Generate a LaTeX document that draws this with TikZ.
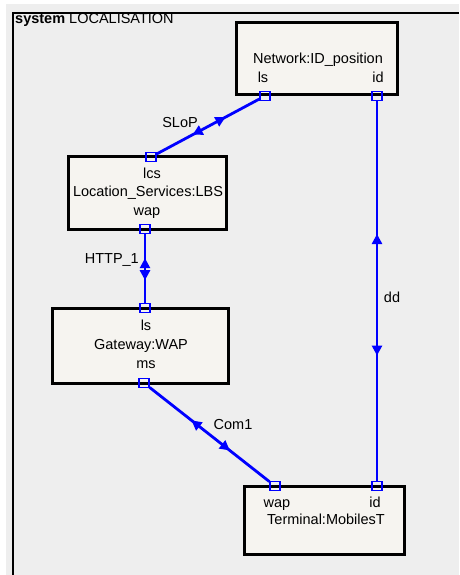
\documentclass[tikz,border=0pt]{standalone}
\usepackage{fontspec}
\setmainfont{Liberation Sans}
\usetikzlibrary{arrows.meta,decorations.markings}

\definecolor{panelgray}{HTML}{EEEEEE}
\definecolor{partfill}{HTML}{F6F4F0}

\tikzset{
  part/.style={draw=black, line width=3pt, fill=partfill, inner sep=0pt},
  port/.style={draw=blue, line width=1.2pt, minimum width=10pt, minimum height=9pt, inner sep=0pt},
  txt/.style={font=\fontsize{14.5}{17}\selectfont, inner sep=0pt, text height=10.5pt, text depth=3pt},
  conn/.style={blue, line width=2.8pt, postaction={decorate},
    decoration={markings,
      mark=at position 0.35 with {\arrowreversed{Triangle[length=10pt,width=10pt]}},
      mark=at position 0.67 with {\arrow{Triangle[length=10pt,width=10pt]}}}}
}

\begin{document}
\begin{tikzpicture}[x=1pt,y=-1pt]
\useasboundingbox (0,0) rectangle (459,575);
\fill[white] (0,0) rectangle (459,575);
\fill[panelgray] (6,4) rectangle (459,575);

% System frame
\draw[line width=2.2pt] (13,575) |- (459,13);
\node[txt, anchor=west] (title) at (15,20) {\textbf{system} LOCALISATION};

% Parts
\node[part, minimum width=161, minimum height=72] (net) at (316.5,59) {};
\node[part, minimum width=158, minimum height=73] (lbs) at (147,192.5) {};
\node[part, minimum width=176, minimum height=75] (gw) at (140,345.5) {};
\node[part, minimum width=160, minimum height=68] (term) at (324,520) {};

% Part texts
\node[txt] (netname) at (318,60) {Network:ID\_position};
\node[txt] (netlslab) at (263,79) {ls};
\node[txt] (netidlab) at (378,79) {id};
\node[txt] (lbslcslab) at (152,175) {lcs};
\node[txt] (lbsname) at (148,193) {Location\_Services:LBS};
\node[txt] (lbswaplab) at (147,212) {wap};
\node[txt] (gwlslab) at (146,327) {ls};
\node[txt] (gwname) at (141,346) {Gateway:WAP};
\node[txt] (gwmslab) at (146,365) {ms};
\node[txt] (termwaplab) at (277,504) {wap};
\node[txt] (termidlab) at (375,504) {id};
\node[txt] (termname) at (326,521) {Terminal:MobilesT};

% Ports
\node[port] (netls) at (265,96) {};
\node[port] (netid) at (377,96) {};
\node[port] (lbslcs) at (151,157) {};
\node[port] (lbswap) at (145,229) {};
\node[port] (gwls) at (145,308) {};
\node[port] (gwms) at (144,383) {};
\node[port] (termwap) at (275,486) {};
\node[port] (termid) at (377,486) {};

% Connectors
\draw[conn] (lbslcs) -- (netls);
\draw[conn] (lbswap) -- (gwls);
\draw[conn] (gwms) -- (termwap);
\draw[conn] (netid) -- (termid);

% Connector names
\node[txt] (slop) at (180,124) {SLoP};
\node[txt, anchor=east] (http) at (139,260) {HTTP\_1};
\node[txt] (com) at (233,426) {Com1};
\node[txt] (dd) at (392,299) {dd};
\end{tikzpicture}
\end{document}
